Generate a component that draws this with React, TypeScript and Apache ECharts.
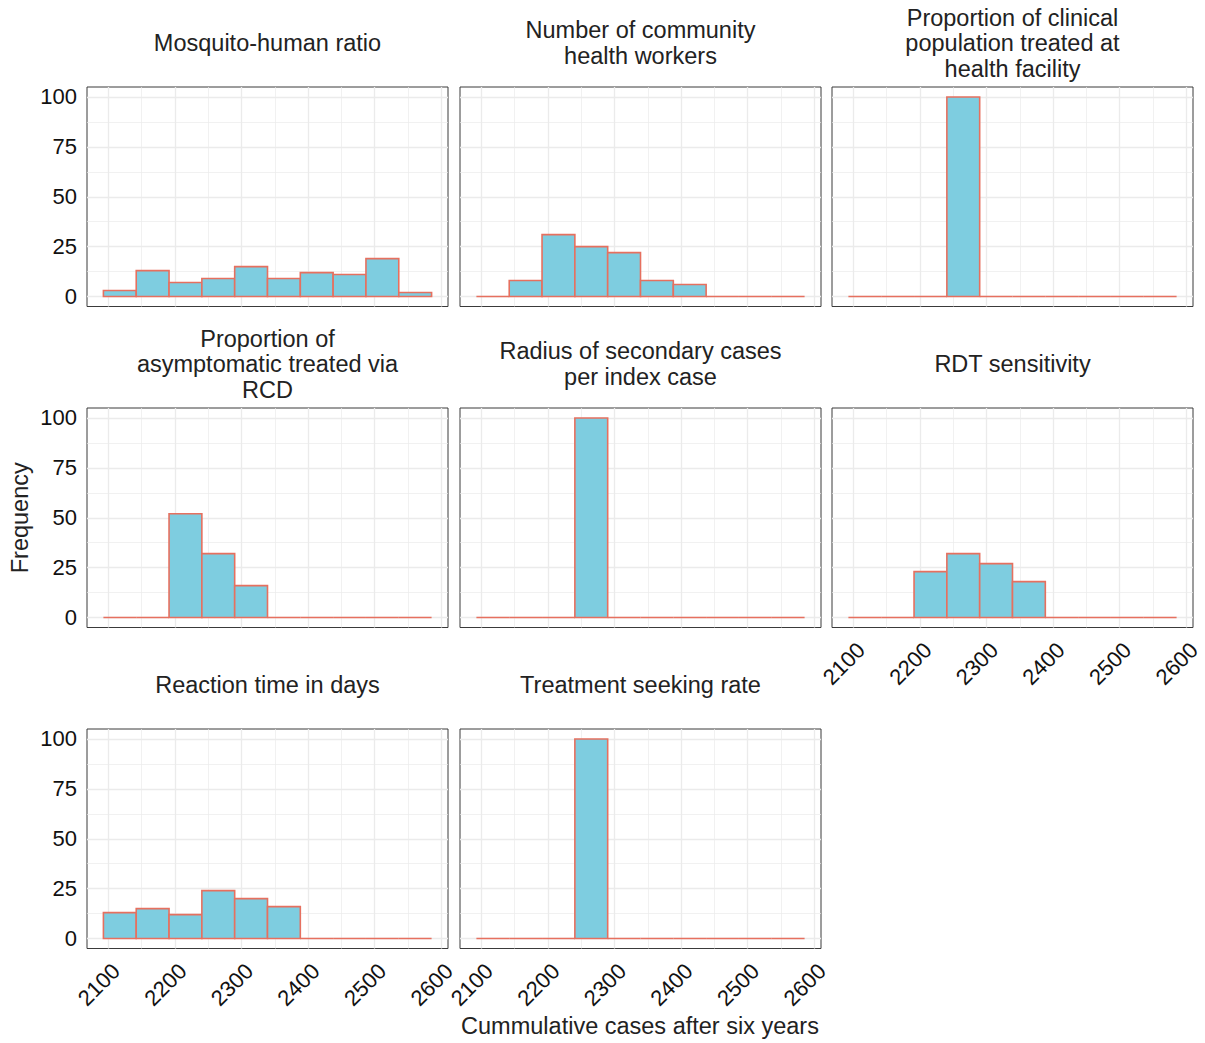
import { useEffect, useRef } from "react";
import * as echarts from "echarts";

// Facet titles, in reading order (left to right, top to bottom)
const panelTitles = [
  "Mosquito-human ratio",
  "Number of community\nhealth workers",
  "Proportion of clinical\npopulation treated at\nhealth facility",
  "Proportion of\nasymptomatic treated via\nRCD",
  "Radius of secondary cases\nper index case",
  "RDT sensitivity",
  "Reaction time in days",
  "Treatment seeking rate",
];

// Shared histogram bin edges (10 bins)
const binEdges = [
  2092.5, 2141.8, 2191.1, 2240.4, 2289.7, 2339.0, 2388.3, 2437.6, 2486.9, 2536.2, 2585.5,
];

// Counts per bin for each parameter
const mosquitoHumanRatio = [3, 13, 7, 9, 15, 9, 12, 11, 19, 2];
const communityHealthWorkers = [0, 8, 31, 25, 22, 8, 6, 0, 0, 0];
const clinicalTreatedAtFacility = [0, 0, 0, 100, 0, 0, 0, 0, 0, 0];
const asymptomaticTreatedRcd = [0, 0, 52, 32, 16, 0, 0, 0, 0, 0];
const secondaryCaseRadius = [0, 0, 0, 100, 0, 0, 0, 0, 0, 0];
const rdtSensitivity = [0, 0, 23, 32, 27, 18, 0, 0, 0, 0];
const reactionTimeDays = [13, 15, 12, 24, 20, 16, 0, 0, 0, 0];
const treatmentSeekingRate = [0, 0, 0, 100, 0, 0, 0, 0, 0, 0];

const panelCounts = [
  mosquitoHumanRatio,
  communityHealthWorkers,
  clinicalTreatedAtFacility,
  asymptomaticTreatedRcd,
  secondaryCaseRadius,
  rdtSensitivity,
  reactionTimeDays,
  treatmentSeekingRate,
];

const xTicks = [2100, 2200, 2300, 2400, 2500, 2600];
const xMinorTicks = [2150, 2250, 2350, 2450, 2550];
const yTicks = [0, 25, 50, 75, 100];
const yMinorTicks = [12.5, 37.5, 62.5, 87.5];

const xTitle = "Cummulative cases after six years";
const yTitle = "Frequency";

// Layout of the 3-column facet grid
const colLeft = [87, 460, 832];
const rowTop = [87, 408, 729];
const panelW = 361;
const panelH = 219.5;

const FONT = '"Liberation Sans", Arial, Helvetica, sans-serif';
const FILL = "#7ECDE0";
const OUTLINE = "#E6705F";
const GRID_LINE = "#EBEBEB";

// Panels that show x / y tick labels (bottom of each column, left column)
const xLabelPanels = [5, 6, 7];
const yLabelPanels = [0, 3, 6];

function buildOption() {
  const xLo = binEdges[0];
  const xHi = binEdges[binEdges.length - 1];
  const xPad = (xHi - xLo) * 0.05;
  const yMaxCount = Math.max(...panelCounts.map((c) => Math.max(...c)));
  const yPad = yMaxCount * 0.05;
  const xMin = xLo - xPad;
  const xMax = xHi + xPad;
  const yMin = -yPad;
  const yMax = yMaxCount + yPad;

  const grids: any[] = [];
  const xAxes: any[] = [];
  const yAxes: any[] = [];
  const series: any[] = [];
  const texts: any[] = [];

  panelTitles.forEach((title, i) => {
    const col = i % 3;
    const row = Math.floor(i / 3);
    const left = colLeft[col];
    const top = rowTop[row];

    grids.push({
      left,
      top,
      width: panelW,
      height: panelH,
      show: true,
      backgroundColor: "#ffffff",
      borderColor: "#3a3a3a",
      borderWidth: 1,
    });

    const showX = xLabelPanels.includes(i);
    const showY = yLabelPanels.includes(i);

    // major x axis (labels + major grid)
    xAxes.push({
      type: "value",
      gridIndex: i,
      position: "bottom",
      min: xMin,
      max: xMax,
      axisLine: { show: false },
      axisTick: { show: false, customValues: xTicks },
      axisLabel: {
        show: showX,
        customValues: xTicks,
        formatter: (v: number) => String(Math.round(v)),
        rotate: 45,
        align: "right",
        verticalAlign: "top",
        margin: 11,
        fontSize: 22,
        fontFamily: FONT,
        color: "#111111",
      },
      splitLine: { show: true, lineStyle: { color: GRID_LINE, width: 1.3 } },
    });
    // minor x grid
    xAxes.push({
      type: "value",
      gridIndex: i,
      position: "top",
      min: xMin,
      max: xMax,
      axisLine: { show: false },
      axisTick: { show: false, customValues: xMinorTicks },
      axisLabel: { show: false, customValues: xMinorTicks },
      splitLine: { show: true, lineStyle: { color: GRID_LINE, width: 0.7 } },
    });

    // major y axis
    yAxes.push({
      type: "value",
      gridIndex: i,
      position: "left",
      min: yMin,
      max: yMax,
      axisLine: { show: false },
      axisTick: { show: false, customValues: yTicks },
      axisLabel: {
        show: showY,
        customValues: yTicks,
        formatter: (v: number) => String(Math.round(v)),
        margin: 10,
        fontSize: 22,
        fontFamily: FONT,
        color: "#111111",
      },
      splitLine: { show: true, lineStyle: { color: GRID_LINE, width: 1.3 } },
    });
    // minor y grid
    yAxes.push({
      type: "value",
      gridIndex: i,
      position: "right",
      min: yMin,
      max: yMax,
      axisLine: { show: false },
      axisTick: { show: false, customValues: yMinorTicks },
      axisLabel: { show: false, customValues: yMinorTicks },
      splitLine: { show: true, lineStyle: { color: GRID_LINE, width: 0.7 } },
    });

    const counts = panelCounts[i];
    const data = counts.map((c, j) => [binEdges[j], binEdges[j + 1], c]);

    series.push({
      type: "custom",
      name: title,
      xAxisIndex: 2 * i,
      yAxisIndex: 2 * i,
      encode: { x: [0, 1], y: 2 },
      data,
      z: 5,
      renderItem: (_params: any, api: any) => {
        const x0 = api.value(0);
        const x1 = api.value(1);
        const c = api.value(2);
        const tl = api.coord([x0, c]);
        const br = api.coord([x1, 0]);
        return {
          type: "rect",
          shape: {
            x: tl[0],
            y: tl[1],
            width: br[0] - tl[0],
            height: br[1] - tl[1],
          },
          style: {
            fill: c > 0 ? FILL : "none",
            stroke: OUTLINE,
            lineWidth: 1.6,
          },
        };
      },
    });

    // facet strip title
    texts.push({
      type: "text",
      x: left + panelW / 2,
      y: top - 44,
      style: {
        text: title,
        fill: "#222222",
        font: `23.5px ${FONT}`,
        fontSize: 23.5,
        fontFamily: FONT,
        align: "center",
        textAlign: "center",
        verticalAlign: "middle",
        textVerticalAlign: "middle",
        lineHeight: 25.5,
      },
    });
  });

  // axis titles
  texts.push({
    type: "text",
    x: (colLeft[0] + colLeft[2] + panelW) / 2,
    y: 1026,
    style: {
      text: xTitle,
      fill: "#222222",
      font: `23.5px ${FONT}`,
      fontSize: 23.5,
      fontFamily: FONT,
      align: "center",
      textAlign: "center",
      verticalAlign: "middle",
      textVerticalAlign: "middle",
    },
  });
  texts.push({
    type: "text",
    x: 20,
    y: (rowTop[0] + rowTop[2] + panelH) / 2,
    rotation: Math.PI / 2,
    style: {
      text: yTitle,
      fill: "#222222",
      font: `23.5px ${FONT}`,
      fontSize: 23.5,
      fontFamily: FONT,
      align: "center",
      textAlign: "center",
      verticalAlign: "middle",
      textVerticalAlign: "middle",
    },
  });

  return {
    animation: false,
    backgroundColor: "#ffffff",
    grid: grids,
    xAxis: xAxes,
    yAxis: yAxes,
    series,
    graphic: { elements: texts },
  };
}

export default function App() {
  const ref = useRef<HTMLDivElement | null>(null);

  useEffect(() => {
    if (!ref.current) return;
    const chart = echarts.init(ref.current, null, { renderer: "svg" });
    chart.setOption(buildOption());
    return () => {
      chart.dispose();
    };
  }, []);

  return (
    <div
      ref={ref}
      style={{ position: "absolute", left: 0, top: 0, width: 1205, height: 1043 }}
    />
  );
}
